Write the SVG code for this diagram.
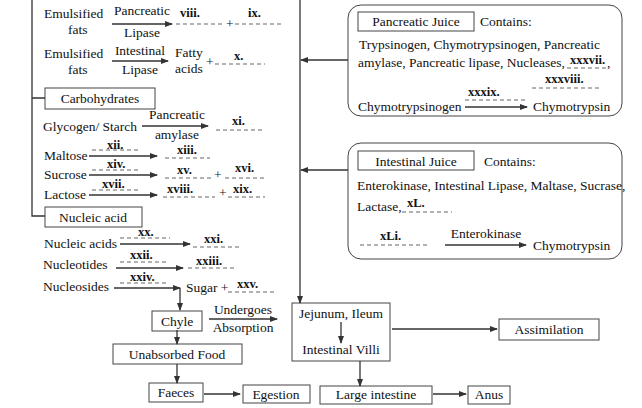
<svg xmlns="http://www.w3.org/2000/svg" width="642" height="408" viewBox="0 0 642 408" font-family="'Liberation Serif', 'Times New Roman', 'DejaVu Serif', serif">
<defs>
<marker id="a" markerWidth="8" markerHeight="6" refX="7" refY="3" orient="auto" markerUnits="userSpaceOnUse"><path d="M0,0 L8,3 L0,6 z" fill="#333"/></marker>
<style>
text{font-family:'Liberation Serif','Times New Roman','DejaVu Serif',serif;font-size:13.5px;fill:#111}
.b{font-weight:bold;font-size:12.5px}
.m{text-anchor:middle}
.l{stroke:#333;stroke-width:1.3;fill:none}
.ar{stroke:#333;stroke-width:1.3;fill:none;marker-end:url(#a)}
.d{stroke:#555;stroke-width:0.9;stroke-dasharray:4 3;fill:none}
.box{fill:#fff;stroke:#444;stroke-width:1}
</style>
</defs>
<rect width="642" height="408" fill="#fff"/>
<g id="fats">
<text x="44" y="18">Emulsified</text><text x="68" y="34">fats</text>
<text x="142" y="15" class="m">Pancreatic</text><text x="142" y="37" class="m">Lipase</text>
<text x="180" y="17" class="b">viii.</text><path class="d" d="M176,24 H222"/>
<text x="226" y="28">+</text><text x="248" y="17" class="b">ix.</text><path class="d" d="M235,24 H283"/>
<text x="44" y="58">Emulsified</text><text x="68" y="74">fats</text>
<text x="140" y="55" class="m">Intestinal</text><text x="140" y="74" class="m">Lipase</text>
<text x="175" y="57">Fatty</text><text x="175" y="73">acids</text>
<text x="206" y="66">+</text><text x="234" y="60" class="b">x.</text><path class="d" d="M215,64 H265"/>
</g>
<g id="carbohydrates">
<rect class="box" x="45" y="88" width="110" height="21"/>
<text x="100" y="103" class="m">Carbohydrates</text>
<text x="43" y="131">Glycogen/ Starch</text>
<text x="177" y="119" class="m">Pancreatic</text><text x="177" y="139" class="m">amylase</text>
<text x="232" y="125" class="b">xi.</text><path class="d" d="M216,130 H262"/>
<text x="44" y="160">Maltose</text><text x="107" y="149" class="b">xii.</text><path class="d" d="M92,150 H140"/>
<text x="177" y="154" class="b">xiii.</text><path class="d" d="M165,158 H210"/>
<text x="44" y="179">Sucrose</text><text x="107" y="168" class="b">xiv.</text><path class="d" d="M92,170 H140"/>
<text x="177" y="174" class="b">xv.</text><path class="d" d="M165,178 H212"/>
<text x="214" y="179">+</text><text x="235" y="172" class="b">xvi.</text><path class="d" d="M225,178 H265"/>
<text x="44" y="199">Lactose</text><text x="102" y="188" class="b">xvii.</text><path class="d" d="M92,190 H140"/>
<text x="167" y="193" class="b">xviii.</text><path class="d" d="M163,197 H215"/>
<text x="219" y="197">+</text><text x="233" y="193" class="b">xix.</text><path class="d" d="M228,197 H265"/>
</g>
<g id="nucleic">
<rect class="box" x="45" y="207" width="97" height="20"/>
<text x="93" y="222" class="m">Nucleic acid</text>
<text x="44" y="248">Nucleic acids</text><text x="138" y="236" class="b">xx.</text><path class="d" d="M120,238 H170"/>
<text x="204" y="243" class="b">xxi.</text><path class="d" d="M193,247 H240"/>
<text x="43" y="269">Nucleotides</text><text x="130" y="259" class="b">xxii.</text><path class="d" d="M120,262 H168"/>
<text x="196" y="265" class="b">xxiii.</text><path class="d" d="M188,268 H235"/>
<text x="43" y="291">Nucleosides</text><text x="130" y="281" class="b">xxiv.</text><path class="d" d="M120,283 H168"/>
<text x="186" y="292">Sugar +</text><text x="237" y="288" class="b">xxv.</text><path class="d" d="M228,292 H274"/>
</g>
<g id="chyle"><rect class="box" x="152" y="311" width="50" height="20"/><text x="177" y="326" class="m">Chyle</text>
<text x="243" y="314" class="m">Undergoes</text><text x="243" y="332" class="m">Absorption</text></g>
<g id="unabsorbed"><rect class="box" x="113" y="344" width="129" height="20"/><text x="177" y="359" class="m">Unabsorbed Food</text></g>
<g id="faeces"><rect class="box" x="149" y="383" width="54" height="19"/><text x="176" y="397" class="m">Faeces</text></g>
<g id="egestion"><rect class="box" x="243" y="385" width="67" height="18"/><text x="276" y="399" class="m">Egestion</text></g>
<g id="jejunum"><rect class="box" x="292" y="303" width="98" height="58"/>
<text x="341" y="318" class="m">Jejunum, Ileum</text><text x="341" y="354" class="m">Intestinal Villi</text></g>
<g id="assimilation"><rect class="box" x="499" y="319" width="100" height="21"/><text x="549" y="334" class="m">Assimilation</text></g>
<g id="large"><rect class="box" x="320" y="386" width="112" height="18"/><text x="376" y="399" class="m">Large intestine</text></g>
<g id="anus"><rect class="box" x="468" y="386" width="42" height="18"/><text x="489" y="399" class="m">Anus</text></g>
<g id="pancreatic">
<rect class="box" x="348" y="5" width="274" height="111" rx="13"/>
<rect class="box" x="358" y="12" width="116" height="19"/>
<text x="416" y="26" class="m">Pancreatic Juice</text><text x="480" y="26">Contains:</text>
<text x="359" y="49">Trypsinogen, Chymotrypsinogen,  Pancreatic</text>
<text x="358" y="67">amylase, Pancreatic lipase, Nucleases,</text>
<text x="570" y="64" class="b">xxxvii.</text><path class="d" d="M567,68 H606"/><text x="607" y="67">,</text>
<text x="545" y="83" class="b">xxxviii.</text><path class="d" d="M532,88 H600"/>
<text x="468" y="96" class="b">xxxix.</text><path class="d" d="M465,100 H527"/>
<text x="358" y="111">Chymotrypsinogen</text><text x="533" y="111">Chymotrypsin</text>
</g>
<g id="intestinal">
<rect class="box" x="348" y="143" width="274" height="116" rx="13"/>
<rect class="box" x="358" y="151" width="116" height="19"/>
<text x="416" y="166" class="m">Intestinal Juice</text><text x="484" y="166">Contains:</text>
<text x="357" y="190">Enterokinase, Intestinal Lipase, Maltase, Sucrase,</text>
<text x="357" y="211">Lactase,</text><text x="407" y="207" class="b">xL.</text><path class="d" d="M402,212 H452"/>
<text x="380" y="240" class="b">xLi.</text><path class="d" d="M360,245 H430"/>
<text x="486" y="238" class="m">Enterokinase</text><text x="533" y="250">Chymotrypsin</text>
</g>
<g id="connectors">
<path class="l" d="M32,0 V216 H45 M32,98 H45"/>
<path class="ar" d="M300,0 V303"/>
<path class="ar" d="M348,60 H301"/>
<path class="ar" d="M348,170 H301"/>
<path class="ar" d="M112,24 H172"/>
<path class="ar" d="M112,61 H168"/>
<path class="ar" d="M142,126 H208"/>
<path class="ar" d="M89,156 H157"/>
<path class="ar" d="M89,175 H157"/>
<path class="ar" d="M89,195 H157"/>
<path class="ar" d="M120,244 H190"/>
<path class="ar" d="M116,268 H183"/>
<path class="ar" d="M114,288 H180"/>
<path class="ar" d="M180,288 V310"/>
<path class="ar" d="M209,319 H277"/>
<path class="ar" d="M177,330 V344"/>
<path class="ar" d="M177,364 V383"/>
<path class="ar" d="M204,394 H240"/>
<path class="ar" d="M341,322 V343"/>
<path class="ar" d="M392,329 H497"/>
<path class="ar" d="M360,361 V386"/>
<path class="ar" d="M433,394 H466"/>
<path class="ar" d="M465,107 H527"/>
<path class="ar" d="M445,245 H526"/>
</g>
</svg>
